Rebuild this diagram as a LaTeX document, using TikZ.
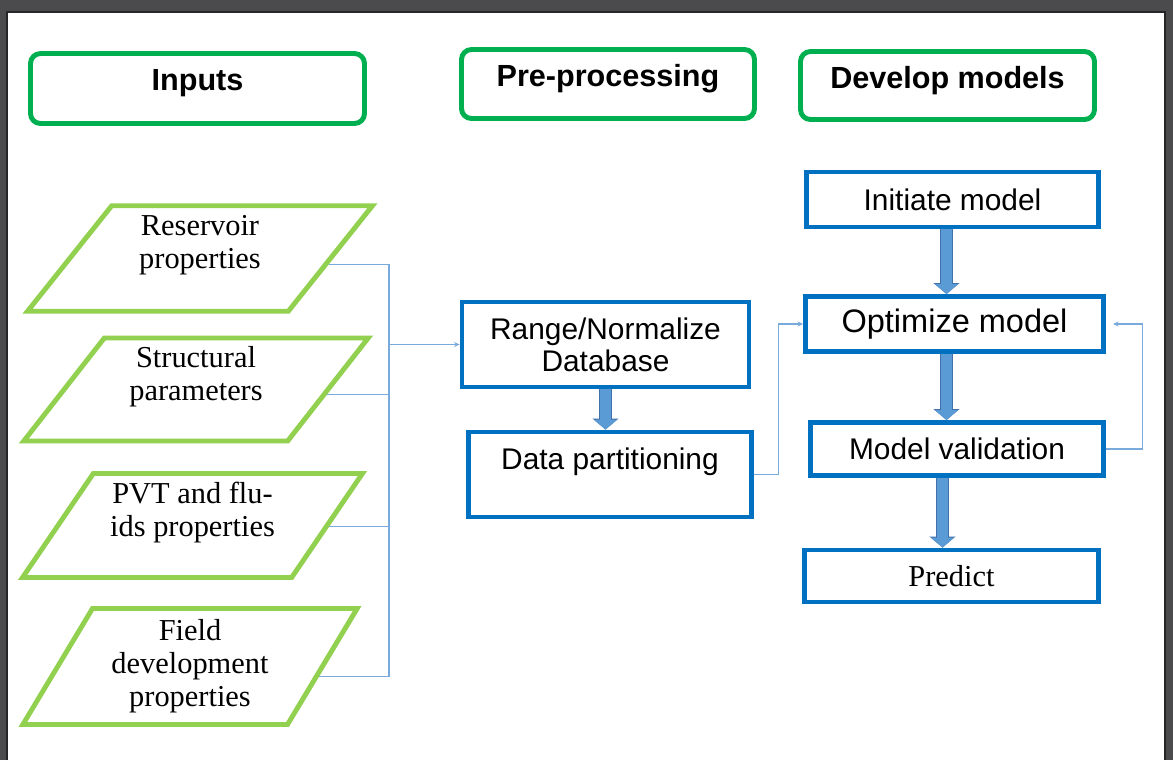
\documentclass[tikz,border=0pt]{standalone}
\usepackage{fontspec}
\setmainfont{Liberation Serif}
\setsansfont{Liberation Sans}
\usetikzlibrary{arrows.meta,positioning,calc,shapes.geometric}
\definecolor{framegray}{RGB}{75,75,77}
\definecolor{headgreen}{RGB}{0,176,80}
\definecolor{paragreen}{RGB}{146,208,80}
\definecolor{boxblue}{RGB}{0,112,192}
\definecolor{arrowblue}{RGB}{91,155,213}
\definecolor{arrowedge}{RGB}{65,113,170}
\definecolor{linkblue}{RGB}{120,170,220}

\begin{document}
\begin{tikzpicture}[
  headbox/.style={rectangle, draw=headgreen, line width=2.8pt, rounded corners=2mm, minimum height=1.38cm, text depth=0.33cm, font=\sffamily\bfseries\fontsize{17.4}{20}\selectfont},
  inbox/.style={trapezium, trapezium left angle=56, trapezium right angle=124, trapezium stretches=true, draw=paragreen, line width=2.8pt, inner sep=0pt, align=center, font=\fontsize{17.3}{18.7}\selectfont},
  stepbox/.style={rectangle, draw=boxblue, line width=2.8pt, align=center, inner sep=2pt, minimum height=1.1cm, font=\sffamily\fontsize{17}{18.1}\selectfont},
  link/.style={line width=0.6pt, color=linkblue},
  linkto/.style={link, -{Stealth[length=1.1mm,width=1mm]}},
  bigflow/.style={line width=0.22cm, color=arrowblue, -{Triangle[length=0.2cm,width=0.45cm]}, preaction={draw=arrowedge, line width=0.26cm, -{Triangle[length=0.22cm,width=0.51cm]}}}
]

% page and viewer frame
\useasboundingbox (0,0) rectangle (23.46,-15.2);
\fill[framegray] (0,0) rectangle (23.46,-15.2);
\fill[white] (0.14,-0.24) rectangle (23.30,-15.2);
\draw[black!85, line width=0.6pt] (0.14,-15.2) -- (0.14,-0.24) -- (23.30,-0.24) -- (23.30,-15.2);

% Column headers
\node[headbox, minimum width=6.68cm, minimum height=1.4cm] (inputs) at (3.95,-1.77) {Inputs};
\node[headbox, minimum width=5.86cm] (prep) at (12.16,-1.68) {Pre-processing};
\node[headbox, minimum width=5.88cm, minimum height=1.36cm] (develop) at (18.95,-1.71) {Develop models};

% Inputs
\node[inbox, minimum width=6.9cm, minimum height=2.11cm] (reservoir) at (4.0,-5.17) {Reservoir\\properties\\\mbox{}};
\node[inbox, minimum width=6.9cm, minimum height=2.06cm] (structural) at (3.92,-7.79) {Structural\\parameters\\\mbox{}};
\node[inbox, minimum width=6.8cm, minimum height=2.08cm] (pvt) at (3.85,-10.51) {PVT and flu-\\ids properties\\\mbox{}};
\node[inbox, minimum width=6.7cm, minimum height=2.32cm, trapezium left angle=59, trapezium right angle=121] (field) at (3.80,-13.33) {Field\\development\\properties};

% Pre-processing
\node[stepbox, minimum width=5.74cm, minimum height=1.7cm] (range) at (12.11,-6.89) {Range/Normalize\\Database};
\node[stepbox, minimum width=5.66cm, minimum height=1.7cm] (partition) at (12.2,-9.49) {Data partitioning\\\mbox{}};

% Develop models
\node[stepbox, minimum width=5.83cm] (initiate) at (19.05,-3.99) {Initiate model};
\node[stepbox, minimum width=5.96cm, font=\sffamily\fontsize{18.5}{20}\selectfont] (optimize) at (19.09,-6.48) {Optimize model};
\node[stepbox, minimum width=5.86cm, minimum height=1.06cm] (validation) at (19.14,-8.98) {Model validation};
\node[stepbox, minimum width=5.88cm, minimum height=1.04cm, font=\rmfamily\fontsize{17.3}{19}\selectfont] (predict) at (19.03,-11.52) {Predict};

% Thin connectors
\coordinate (bus) at (7.78,-6.89);
\draw[linkto] ($(reservoir.top right corner)!0.55!(reservoir.bottom right corner)$) -| (bus) -- (range.west);
\draw[link] (bus) |- ($(structural.top right corner)!0.55!(structural.bottom right corner)$);
\draw[link] (bus) |- ($(pvt.top right corner)!0.51!(pvt.bottom right corner)$);
\draw[link] (bus) |- ($(field.top right corner)!0.58!(field.bottom right corner)$);
\draw[linkto] (partition.east) -- ++(0.5,0) |- (optimize.west);
\draw[linkto] (validation.east) -- ++(0.74,0) |- ([xshift=0.14cm]optimize.east);

% Block arrows
\coordinate (colA) at (18.93,0);
\coordinate (colB) at (18.85,0);
\draw[bigflow] (range.south) -- (range.south |- partition.north);
\draw[bigflow] (initiate.south -| colA) -- (optimize.north -| colA);
\draw[bigflow] (optimize.south -| colA) -- (validation.north -| colA);
\draw[bigflow] (validation.south -| colB) -- (predict.north -| colB);

\end{tikzpicture}
\end{document}
